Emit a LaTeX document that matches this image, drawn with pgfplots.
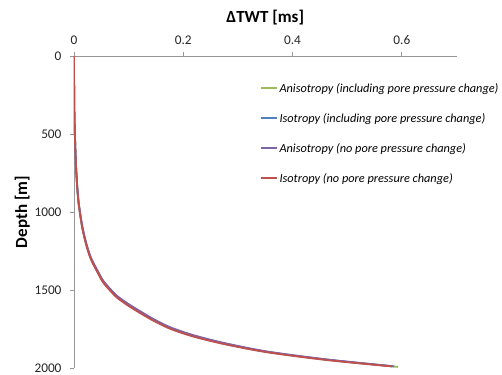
\documentclass[border=0pt]{standalone}
\usepackage{pgfplots}
\pgfplotsset{compat=1.18}
\usepackage{pgfplotstable}
\usepackage{fontspec}
\setmainfont{Carlito}
\definecolor{cgreen}{HTML}{9BBB59}
\definecolor{cblue}{HTML}{4F81BD}
\definecolor{cpurple}{HTML}{8064A2}
\definecolor{cred}{HTML}{C0504D}
\definecolor{axgray}{RGB}{150,150,150}

\pgfplotstableread{
depth x
0    0
197  0.0002
397  0.0008
547  0.0020
697  0.0035
847  0.0060
947  0.0085
996  0.0105
1096 0.0150
1196 0.0215
1296 0.0305
1396 0.0450
1446 0.0530
1496 0.0650
1546 0.0790
1596 0.0990
1646 0.1220
1696 0.1470
1746 0.1770
1796 0.2200
1847 0.2790
1898 0.3550
1948 0.4650
1993 0.5930
}\greendata

\pgfplotstableread{
depth x
0    0
196  0.0002
394  0.0008
544  0.0020
694  0.0035
843  0.0060
943  0.0085
993  0.0105
1093 0.0150
1193 0.0215
1293 0.0305
1393 0.0450
1443 0.0530
1493 0.0650
1543 0.0790
1593 0.0990
1643 0.1220
1693 0.1470
1744 0.1770
1795 0.2200
1845 0.2790
1897 0.3550
1947 0.4650
1990 0.5860
}\bluedata

\pgfplotstableread{
depth x
0    0
195  0.0002
392  0.0008
540  0.0020
688  0.0035
838  0.0060
938  0.0085
988  0.0105
1088 0.0150
1188 0.0215
1288 0.0305
1388 0.0450
1438 0.0530
1488 0.0650
1538 0.0790
1588 0.0990
1638 0.1220
1689 0.1470
1740 0.1770
1791 0.2200
1843 0.2790
1895 0.3550
1946 0.4650
1988 0.5830
}\purpledata

\pgfplotstableread{
depth x
0    0
200  0.0002
400  0.0008
550  0.0020
700  0.0035
850  0.0060
950  0.0085
1000 0.0105
1100 0.0150
1200 0.0215
1300 0.0305
1400 0.0450
1450 0.0530
1500 0.0650
1550 0.0790
1600 0.0990
1650 0.1220
1700 0.1470
1750 0.1770
1800 0.2200
1850 0.2790
1900 0.3550
1950 0.4650
1990 0.5820
}\reddata

\begin{document}
\begin{tikzpicture}[font=\fontsize{13.3bp}{16bp}\selectfont]
\path[use as bounding box] (-74bp,-7bp) rectangle (428bp,368bp);
\begin{axis}[
  scale only axis, width=382.5bp, height=312bp,
  at={(0,0)}, anchor=south west,
  xmin=0, xmax=0.7, ymin=0, ymax=2000, y dir=reverse,
  axis x line=top, axis y line=left,
  axis line style={-, draw=axgray, line width=0.9bp},
  xtick={0,0.2,0.4,0.6}, ytick={0,500,1000,1500,2000},
  tick align=outside, major tick length=4bp,
  tick style={draw=axgray, line width=0.8bp},
  /pgf/number format/assume math mode=true,
  /pgf/number format/1000 sep={},
  ticklabel style={font=\fontsize{13.3bp}{16bp}\selectfont, text=black!85},
  xticklabel style={yshift=4bp},
  yticklabel style={xshift=-5bp},
  xlabel={ΔTWT [ms]},
  ylabel={Depth [m]},
  label style={font=\fontsize{17bp}{20bp}\selectfont\bfseries},
  xlabel style={yshift=4bp},
  ylabel style={yshift=-2bp},
  legend style={draw=none, fill=none, at={(0.485,0.92)}, anchor=north west,
    font=\fontsize{12.3bp}{15bp}\selectfont\itshape, row sep=15.5bp, inner sep=0pt},
  legend cell align=left,
  legend image code/.code={\draw[#1] (0bp,0bp) -- (16bp,0bp);},
  every axis plot/.append style={line width=1.8bp, smooth, tension=0.5},
]
\addplot[cgreen] table[x=x, y=depth] {\greendata};
\addlegendentry{Anisotropy (including pore pressure change)}
\addplot[cblue] table[x=x, y=depth] {\bluedata};
\addlegendentry{Isotropy (including pore pressure change)}
\addplot[cpurple] table[x=x, y=depth] {\purpledata};
\addlegendentry{Anisotropy (no pore pressure change)}
\addplot[cred] table[x=x, y=depth] {\reddata};
\addlegendentry{Isotropy (no pore pressure change)}
\end{axis}
\end{tikzpicture}
\end{document}
